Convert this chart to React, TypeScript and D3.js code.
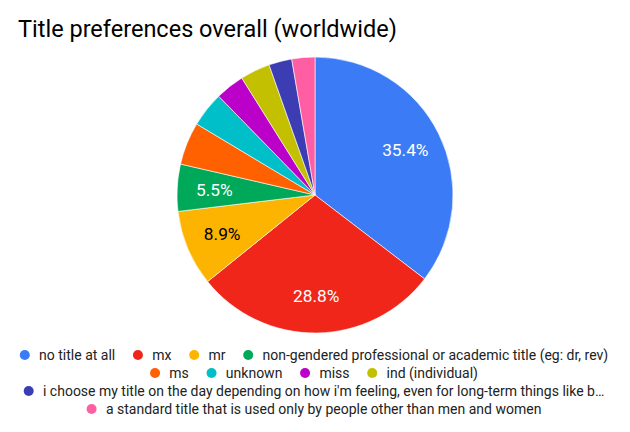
import React, { useEffect, useRef } from 'react';
import * as d3 from 'd3';

const TITLE = 'Title preferences overall (worldwide)';

const categories = [
  'no title at all',
  'mx',
  'mr',
  'non-gendered professional or academic title (eg: dr, rev)',
  'ms',
  'unknown',
  'miss',
  'ind (individual)',
  "i choose my title on the day depending on how i'm feeling, even for long-term things like bank accounts",
  'a standard title that is used only by people other than men and women',
];

const shares = [35.4, 28.8, 8.9, 5.5, 5.0, 4.1, 3.4, 3.5, 2.7, 2.7];

const palette = [
  '#3b7cf6',
  '#ef2619',
  '#fdb400',
  '#00a859',
  '#ff6000',
  '#00bfc9',
  '#bb00c9',
  '#c2c000',
  '#3c3db3',
  '#ff5fa2',
];

const W = 630;
const H = 432;
const FONT = 'Roboto, "Noto Sans", Arial, sans-serif';

const App: React.FC = () => {
  const ref = useRef<SVGSVGElement | null>(null);

  useEffect(() => {
    if (!ref.current) return;
    const svg = d3.select<SVGSVGElement, unknown>(ref.current);
    svg.selectAll('*').remove();

    svg
      .append('text')
      .attr('x', 18)
      .attr('y', 37)
      .attr('font-family', FONT)
      .attr('font-size', 23.5)
      .attr('fill', '#000')
      .text(TITLE);

    // pie
    const cx = 315;
    const cy = 195;
    const r = 138;
    const total = d3.sum(shares);
    const color = d3.scaleOrdinal<string, string>().domain(categories).range(palette);

    const pie = d3
      .pie<number>()
      .sort(null)
      .value(d => d);
    const arcs = pie(shares);
    const arc = d3.arc<d3.PieArcDatum<number>>().innerRadius(0).outerRadius(r);
    const labelArc = d3.arc<d3.PieArcDatum<number>>().innerRadius(r * 0.73).outerRadius(r * 0.73);

    const g = svg.append('g').attr('transform', `translate(${cx},${cy})`);
    g.selectAll('path.slice')
      .data(arcs)
      .join('path')
      .attr('class', 'slice')
      .attr('d', arc as any)
      .attr('fill', (_d, i) => color(categories[i]))
      .attr('stroke', '#fff')
      .attr('stroke-width', 0.6);

    const fmt = d3.format('.1%');
    g.selectAll('text.pct')
      .data(arcs.filter(a => a.value / total >= 0.052))
      .join('text')
      .attr('class', 'pct')
      .attr('transform', d => `translate(${labelArc.centroid(d)})`)
      .attr('text-anchor', 'middle')
      .attr('dy', '0.35em')
      .attr('font-family', FONT)
      .attr('font-size', 17.3)
      .attr('fill', d => (d3.lab(color(categories[d.index])).l > 70 ? '#000' : '#fff'))
      .text(d => fmt(d.value / total));

    // legend
    const fontSize = 14;
    const dotR = 5;
    const textOff = 14.3;
    const gap = 17.7;
    const maxW = 592;
    const truncW = 586;
    const legendCx = 314;
    const rowY0 = 355;
    const rowStep = 18;

    const measure = svg
      .append('text')
      .attr('font-family', FONT)
      .attr('font-size', fontSize)
      .attr('visibility', 'hidden');
    const widthOf = (s: string) => {
      measure.text(s);
      return (measure.node() as SVGTextElement).getComputedTextLength();
    };

    type Item = { label: string; text: string; w: number };
    const items: Item[] = categories.map(label => {
      let text = label;
      let tw = widthOf(text);
      if (dotR + textOff + tw > maxW) {
        const avail = truncW - dotR - textOff;
        let cut = label.length;
        while (cut > 0) {
          cut -= 1;
          text = label.slice(0, cut).trimEnd() + '…';
          tw = widthOf(text);
          if (tw <= avail) break;
        }
      }
      return { label, text, w: dotR + textOff + tw };
    });
    measure.remove();

    const rows: Item[][] = [];
    let cur: Item[] = [];
    let curW = 0;
    items.forEach(it => {
      const add = cur.length ? gap + it.w : it.w;
      if (cur.length && curW + add > maxW) {
        rows.push(cur);
        cur = [it];
        curW = it.w;
      } else {
        cur.push(it);
        curW += add;
      }
    });
    if (cur.length) rows.push(cur);

    const legend = svg.append('g').attr('font-family', FONT).attr('font-size', fontSize);
    rows.forEach((row, ri) => {
      const rowW = d3.sum(row, d => d.w) + gap * (row.length - 1);
      let x = legendCx - rowW / 2;
      const y = rowY0 + ri * rowStep;
      row.forEach(it => {
        legend
          .append('circle')
          .attr('cx', x + dotR)
          .attr('cy', y)
          .attr('r', dotR)
          .attr('fill', color(it.label));
        legend
          .append('text')
          .attr('x', x + dotR + textOff)
          .attr('y', y)
          .attr('dy', '0.35em')
          .attr('fill', '#222')
          .text(it.text);
        x += it.w + gap;
      });
    });
  }, []);

  return (
    <svg
      ref={ref}
      width={W}
      height={H}
      style={{ position: 'absolute', left: 0, top: 0, background: '#fff' }}
    />
  );
};

export default App;
